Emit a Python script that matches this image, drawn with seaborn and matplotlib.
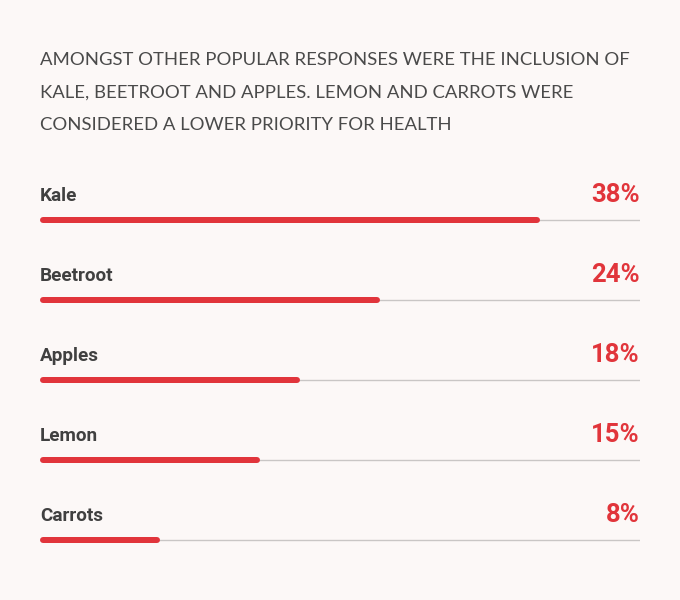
import matplotlib
matplotlib.use("Agg")
import matplotlib.pyplot as plt
import seaborn as sns
import pandas as pd

# ---- data ----
title_lines = [
    "AMONGST OTHER POPULAR RESPONSES WERE THE INCLUSION OF",
    "KALE, BEETROOT AND APPLES. LEMON AND CARROTS WERE",
    "CONSIDERED A LOWER PRIORITY FOR HEALTH",
]
categories = ["Kale", "Beetroot", "Apples", "Lemon", "Carrots"]
percent_labels = [38, 24, 18, 15, 8]
# bar fill as share of the track
bar_fill = [83.3, 56.7, 43.3, 36.7, 20.0]

BG = "#fcf8f7"
RED = "#e1353b"
DARK = "#404040"
TITLE_C = "#4a4a4a"
TRACK = "#c9c6c5"

# the rounded caps add 0.5 unit on each side, so shorten the bar body by 1
df = pd.DataFrame({"category": categories,
                   "fill": [f - 1 for f in bar_fill],
                   "pct": percent_labels})

sns.set_theme(style="white")
plt.rcParams["font.family"] = ["Roboto", "DejaVu Sans"]

W, H = 680, 600
fig = plt.figure(figsize=(W / 100, H / 100), dpi=100, facecolor=BG)

# axes: x from 40px to 640px (6 px per unit); y: index 0 at 220px, 80px per unit
top_px, bot_px = 140, 580
ax = fig.add_axes([40 / W, 1 - bot_px / H, 600 / W, (bot_px - top_px) / H])
ax.set_facecolor(BG)

# track lines
ax.hlines(range(len(categories)), -0.5, 99.5, color=TRACK, lw=1.0, zorder=1)

edge_pt = 6 * 72 / 100  # 6 px edge -> rounded ends
sns.barplot(data=df, x="fill", y="category", orient="h", color=RED,
            width=0.012, ax=ax, saturation=1, zorder=2,
            edgecolor=RED, linewidth=edge_pt)
for p in ax.patches:
    p.set_joinstyle("round")
    p.set_capstyle("round")

ax.set_xlim(-0.5, 99.5)
ax.set_ylim(4.5, -1)
ax.set_axis_off()

# title
for i, line in enumerate(title_lines):
    fig.text(40 / W, 1 - (65 + i * 32.5) / H, line, ha="left", va="baseline",
             fontsize=13.3, color=TITLE_C, family=["Lato", "DejaVu Sans"])

# category labels and percentages
for i, (cat, pct) in enumerate(zip(categories, percent_labels)):
    y_px = 201 + i * 80
    fig.text(40 / W, 1 - y_px / H, cat, ha="left", va="baseline",
             fontsize=13.6, fontweight="bold", color=DARK)
    fig.text(640 / W, 1 - (y_px + 1) / H, f"{pct}%", ha="right", va="baseline",
             fontsize=18.5, fontweight="bold", color=RED)

fig.savefig("out.png", dpi=100, facecolor=BG)
